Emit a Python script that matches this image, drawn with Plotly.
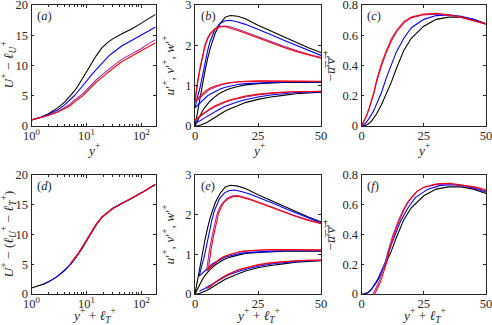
import plotly.graph_objects as go

# line colours: smooth wall, then three slip cases
colors = ["#000000", "#0000ff", "#9b30a8", "#ff0000"]
# virtual-origin shift l_T+ of each case
lT = [0.0, 1.7, 4.6, 5.3]

# ---- (a) U+ - l_U+ against y+ (log axis) ----
yp_log = [1, 1.5, 2, 3, 4, 5, 6, 7, 8.5, 10, 12.5, 15, 19, 25, 30, 45, 65, 100, 140, 180]
U_black = [1.0, 1.5, 2.0, 3.0, 3.95, 4.85, 5.75, 6.6, 7.8, 8.9, 10.4, 11.6, 12.9, 13.9, 14.4, 15.3, 16.0, 17.0, 17.8, 18.45]
U_blue = [1.0, 1.45, 1.9, 2.65, 3.5, 4.25, 5.0, 5.7, 6.7, 7.5, 8.5, 9.3, 10.4, 11.5, 12.1, 13.3, 14.1, 15.0, 15.8, 16.35]
U_purple = [1.0, 1.4, 1.75, 2.35, 3.0, 3.6, 4.25, 4.7, 5.3, 5.95, 6.9, 7.6, 8.4, 9.4, 9.9, 11.1, 11.9, 12.8, 13.7, 14.25]
U_red = [1.0, 1.38, 1.72, 2.3, 2.8, 3.3, 3.95, 4.4, 5.0, 5.6, 6.5, 7.2, 8.0, 9.0, 9.5, 10.7, 11.5, 12.4, 13.2, 13.75]

# ---- (d) U+ - (l_U+ - l_T+) against y+ + l_T+ ----
d_x = [1, 1.3, 1.7, 2, 2.5, 3, 4, 4.6, 5.3, 6, 7, 8.5, 10, 12.5, 15, 19, 25, 30, 45, 65, 100, 140, 180]
d_black = [1.0, 1.3, 1.7, 2.0, 2.5, 3.0, 3.95, 4.5, 5.15, 5.75, 6.6, 7.8, 8.9, 10.4, 11.6, 12.9, 13.9, 14.4, 15.3, 16.0, 17.0, 17.8, 18.45]
d_blue = [None, None, 1.7, 2.0, 2.5, 3.0, 3.95, 4.5, 5.15, 5.78, 6.65, 7.85, 8.95, 10.45, 11.6, 12.85, 13.85, 14.35, 15.25, 16.0, 17.0, 17.8, 18.4]
d_purple = [None, None, None, None, None, None, None, 4.6, 5.25, 5.85, 6.72, 7.95, 9.05, 10.55, 11.7, 12.9, 13.85, 14.35, 15.25, 16.0, 16.98, 17.8, 18.4]
d_red = [None, None, None, None, None, None, None, None, 5.3, 5.9, 6.78, 8.0, 9.1, 10.6, 11.75, 12.92, 13.87, 14.37, 15.27, 16.02, 17.0, 17.82, 18.45]

# ---- (b), (c) fluctuations against y+ (linear) ----
yp = [0, 0.5, 1, 2, 3, 4, 5, 6, 8, 10, 12, 14, 17, 20, 25, 30, 35, 40, 45, 50]
u_black = [0, 0.18, 0.36, 0.72, 1.06, 1.38, 1.67, 1.92, 2.3, 2.54, 2.7, 2.74, 2.72, 2.66, 2.5, 2.36, 2.22, 2.06, 1.94, 1.82]
u_blue = [0.45, 0.6, 0.72, 0.95, 1.27, 1.58, 1.86, 2.1, 2.4, 2.55, 2.61, 2.62, 2.58, 2.52, 2.4, 2.27, 2.13, 2.0, 1.87, 1.75]
u_purple = [0.58, 0.85, 1.05, 1.4, 1.73, 1.98, 2.15, 2.27, 2.41, 2.47, 2.48, 2.46, 2.4, 2.33, 2.21, 2.09, 1.98, 1.88, 1.78, 1.7]
u_red = [0.62, 0.9, 1.1, 1.45, 1.78, 2.02, 2.18, 2.29, 2.41, 2.46, 2.46, 2.43, 2.37, 2.3, 2.18, 2.06, 1.95, 1.85, 1.76, 1.68]

w_black = [0, 0.07, 0.14, 0.27, 0.38, 0.47, 0.55, 0.62, 0.73, 0.82, 0.88, 0.93, 0.98, 1.02, 1.05, 1.07, 1.08, 1.08, 1.08, 1.08]
w_blue = [0.45, 0.48, 0.52, 0.58, 0.64, 0.7, 0.75, 0.79, 0.86, 0.92, 0.96, 0.99, 1.03, 1.05, 1.07, 1.08, 1.09, 1.09, 1.09, 1.09]
w_purple = [0.58, 0.61, 0.65, 0.71, 0.77, 0.82, 0.87, 0.91, 0.97, 1.01, 1.04, 1.07, 1.09, 1.1, 1.11, 1.11, 1.11, 1.11, 1.1, 1.1]
w_red = [0.62, 0.65, 0.69, 0.75, 0.81, 0.86, 0.9, 0.94, 0.99, 1.03, 1.06, 1.08, 1.1, 1.11, 1.12, 1.12, 1.12, 1.12, 1.11, 1.11]

v_black = [0, 0.0, 0.005, 0.02, 0.04, 0.07, 0.1, 0.14, 0.22, 0.3, 0.37, 0.43, 0.51, 0.58, 0.66, 0.72, 0.76, 0.8, 0.82, 0.84]
v_blue = [0.07, 0.08, 0.1, 0.13, 0.17, 0.21, 0.25, 0.29, 0.36, 0.43, 0.49, 0.54, 0.6, 0.65, 0.72, 0.77, 0.8, 0.83, 0.84, 0.85]
v_purple = [0.13, 0.15, 0.18, 0.23, 0.28, 0.33, 0.37, 0.41, 0.48, 0.54, 0.59, 0.63, 0.68, 0.72, 0.77, 0.81, 0.83, 0.85, 0.85, 0.86]
v_red = [0.15, 0.17, 0.2, 0.25, 0.3, 0.35, 0.39, 0.43, 0.5, 0.56, 0.61, 0.65, 0.7, 0.74, 0.79, 0.82, 0.84, 0.85, 0.86, 0.86]

uv_black = [0, 0.0, 0.001, 0.006, 0.016, 0.032, 0.052, 0.078, 0.14, 0.21, 0.29, 0.38, 0.5, 0.58, 0.66, 0.705, 0.72, 0.72, 0.705, 0.675]
uv_blue = [0, 0.004, 0.01, 0.025, 0.048, 0.075, 0.105, 0.14, 0.22, 0.32, 0.41, 0.49, 0.58, 0.65, 0.705, 0.73, 0.735, 0.725, 0.705, 0.675]
uv_purple = [0, 0.014, 0.028, 0.065, 0.11, 0.16, 0.215, 0.285, 0.395, 0.485, 0.56, 0.62, 0.68, 0.715, 0.735, 0.74, 0.732, 0.718, 0.698, 0.673]
uv_red = [0, 0.015, 0.03, 0.07, 0.115, 0.17, 0.225, 0.3, 0.41, 0.5, 0.575, 0.63, 0.69, 0.72, 0.74, 0.745, 0.735, 0.72, 0.7, 0.675]

U_a = [U_black, U_blue, U_purple, U_red]
U_d = [d_black, d_blue, d_purple, d_red]
u_all = [u_black, u_blue, u_purple, u_red]
v_all = [v_black, v_blue, v_purple, v_red]
w_all = [w_black, w_blue, w_purple, w_red]
uv_all = [uv_black, uv_blue, uv_purple, uv_red]

FONT = "Liberation Serif"
INK = "#262626"

fig = go.Figure()


def line(x, y, c, ax):
    fig.add_trace(go.Scatter(x=x, y=y, mode="lines", xaxis="x" + ax, yaxis="y" + ax,
                             line=dict(color=c, width=1.1), showlegend=False,
                             connectgaps=False, hoverinfo="skip"))


for i in range(4):
    c = colors[i]
    shifted = [y + lT[i] for y in yp]
    line(yp_log, U_a[i], c, "")
    line(yp, u_all[i], c, "2")
    line(yp, w_all[i], c, "2")
    line(yp, v_all[i], c, "2")
    line(yp, uv_all[i], c, "3")
    line(d_x, U_d[i], c, "4")
    line(shifted, u_all[i], c, "5")
    line(shifted, w_all[i], c, "5")
    line(shifted, v_all[i], c, "5")
    line(shifted, uv_all[i], c, "6")

W, H = 492, 325
cols_px = [(31.5, 155.5), (195, 321), (361.5, 486)]
rows_px = [(5, 126), (175, 294)]
cols = [[a / W, b / W] for a, b in cols_px]
rows = [[1 - b / H, 1 - a / H] for a, b in rows_px]

base = dict(showline=True, linecolor=INK, linewidth=0.8, mirror="ticks", ticks="inside",
            ticklen=3, tickcolor=INK, tickwidth=0.8, showgrid=False, zeroline=False,
            ticklabeloverflow="allow",
            tickfont=dict(family=FONT, size=12.5, color=INK), automargin=False)
xfont = dict(family=FONT, size=13.5, color=INK)
yfont = dict(family=FONT, size=13.5, color=INK)

yplus = "<i>y</i><sup>+</sup>"
yplus_lt = "<i>y</i><sup>+</sup> + <i>ℓ</i><sub><i>T</i></sub><sup>+</sup>"
logticks = dict(type="log", range=[0, 2.2553], tickvals=[1, 10, 100],
                ticktext=["10<sup>0</sup>", "10<sup>1</sup>", "10<sup>2</sup>"],
                minor=dict(ticks="inside", ticklen=2, tickcolor=INK,
                           tickvals=[2, 3, 4, 5, 6, 7, 8, 9, 20, 30, 40, 50, 60, 70, 80, 90]))
linx = dict(range=[0, 50], tickvals=[0, 25, 50])
yU = dict(range=[0, 20], tickvals=[0, 5, 10, 15, 20])
yu = dict(range=[0, 3], tickvals=[0, 1, 2, 3])
yuv = dict(range=[0, 0.8], tickvals=[0, 0.2, 0.4, 0.6, 0.8], ticktext=["0", "0.2", "0.4", "0.6", "0.8"])

ylab_U = "<i>U</i><sup>+</sup> − <i>ℓ</i><sub><i>U</i></sub><sup>+</sup>"
ylab_Ud = "<i>U</i><sup>+</sup> − (<i>ℓ</i><sub><i>U</i></sub><sup>+</sup> − <i>ℓ</i><sub><i>T</i></sub><sup>+</sup>)"
ylab_u = "<i>u</i>′<sup>+</sup>, <i>v</i>′<sup>+</sup>, <i>w</i>′<sup>+</sup>"
# overline over u'v' drawn with combining overline marks
ylab_uv = "−<i>u\u0305</i>\u2032\u0305<i>v\u0305</i>\u2032\u0305<sup>+</sup>"

# axis-title centres in pixels: x position of the y titles per column, y of x titles per row
ytitle_x = [9, 169, 330]
xtitle_y = [149, 315]

panels = [
    ("", 0, 0, logticks, yU, yplus, ylab_U, "a"),
    ("2", 1, 0, linx, yu, yplus, ylab_u, "b"),
    ("3", 2, 0, linx, yuv, yplus, ylab_uv, "c"),
    ("4", 0, 1, logticks, yU, yplus_lt, ylab_Ud, "d"),
    ("5", 1, 1, linx, yu, yplus_lt, ylab_u, "e"),
    ("6", 2, 1, linx, yuv, yplus_lt, ylab_uv, "f"),
]

lay = {}
annos = []
for ax, ci, ri, xs, ys, xt, yt, tag in panels:
    xa = dict(base, **xs)
    xa.update(domain=cols[ci], anchor="y" + ax, ticklabelstandoff=-2)
    ya = dict(base, **ys)
    ya.update(domain=rows[ri], anchor="x" + ax)
    lay["xaxis" + ax] = xa
    lay["yaxis" + ax] = ya
    annos.append(dict(text="(<i>%s</i>)" % tag, xref="x%s domain" % ax, yref="y%s domain" % ax,
                      x=0.03, y=0.985, xanchor="left", yanchor="top", showarrow=False,
                      font=dict(family=FONT, size=12.5, color=INK)))
    annos.append(dict(text=xt, xref="paper", yref="paper",
                      x=sum(cols[ci]) / 2, y=1 - xtitle_y[ri] / H,
                      xanchor="center", yanchor="middle", showarrow=False, font=xfont))
    annos.append(dict(text=yt, xref="paper", yref="paper", textangle=-90,
                      x=ytitle_x[ci] / W, y=sum(rows[ri]) / 2,
                      xanchor="center", yanchor="middle", showarrow=False, font=yfont))

fig.update_layout(**lay)
fig.update_layout(width=W, height=H, margin=dict(l=0, r=0, t=0, b=0),
                  paper_bgcolor="white", plot_bgcolor="white", annotations=annos)

# the page body has a default 8px margin; remove it so the figure fills the window
fig.write_html("out.html", config={"displayModeBar": False},
               post_script="document.body.style.margin='0px';")
